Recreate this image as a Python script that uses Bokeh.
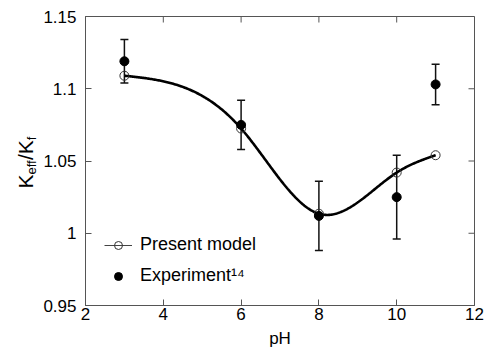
import numpy as np
from bokeh.plotting import figure
from bokeh.layouts import row
from bokeh.models import (ColumnDataSource, Whisker, TeeHead, Legend, LegendItem,
                          FixedTicker, Label, Range1d)
from bokeh.embed import file_html
from bokeh.resources import INLINE

# ---- data ----
ph_model = [3, 6, 8, 10, 11]
k_model = [1.109, 1.0725, 1.0135, 1.042, 1.054]

ph_exp = [3, 6, 8, 10, 11]
k_exp = [1.119, 1.075, 1.012, 1.025, 1.103]
k_err = [0.015, 0.017, 0.024, 0.029, 0.014]

x_ticks = [2, 4, 6, 8, 10, 12]
x_tick_labels = ["2", "4", "6", "8", "10", "12"]
y_ticks = [0.95, 1.0, 1.05, 1.1, 1.15]
y_tick_labels = ["0.95", "1", "1.05", "1.1", "1.15"]

legend_model = "Present model"
legend_exp = "Experiment\u00b9\u2074"
x_title = "pH"
# y title: K_eff / K_f  (text, is_subscript)
y_title_parts = [("K", False), ("eff", True), ("/", False), ("K", False), ("f", True)]

X_MIN, X_MAX = 2, 12
Y_MIN, Y_MAX = 0.95, 1.15

FONT = "Liberation Sans"
AX = "#555555"
W, H = 484, 360
LABEL_W = 40


def natural_spline(x, y, n=300):
    x = np.asarray(x, float)
    y = np.asarray(y, float)
    m = len(x)
    h = np.diff(x)
    A = np.zeros((m, m))
    b = np.zeros(m)
    A[0, 0] = 1.0
    A[-1, -1] = 1.0
    for i in range(1, m - 1):
        A[i, i - 1] = h[i - 1]
        A[i, i] = 2 * (h[i - 1] + h[i])
        A[i, i + 1] = h[i]
        b[i] = 6 * ((y[i + 1] - y[i]) / h[i] - (y[i] - y[i - 1]) / h[i - 1])
    M = np.linalg.solve(A, b)
    xs = np.linspace(x[0], x[-1], n)
    ys = np.empty_like(xs)
    for k, t in enumerate(xs):
        i = min(np.searchsorted(x, t, side="right") - 1, m - 2)
        hi = h[i]
        a = (x[i + 1] - t) / hi
        c = (t - x[i]) / hi
        ys[k] = (a * y[i] + c * y[i + 1]
                 + ((a ** 3 - a) * M[i] + (c ** 3 - c) * M[i + 1]) * hi ** 2 / 6)
    return xs, ys


sx, sy = natural_spline(ph_model, k_model)

p = figure(width=W - LABEL_W, height=H, output_backend="svg", toolbar_location=None,
           x_range=Range1d(X_MIN, X_MAX), y_range=Range1d(Y_MIN, Y_MAX),
           min_border_left=85 - LABEL_W, min_border_right=10, min_border_top=16,
           min_border_bottom=55)
p.grid.visible = False
p.outline_line_color = AX
p.outline_line_width = 1
p.background_fill_color = "white"
p.border_fill_color = "white"

# mirrored ticks on top and right edges of the frame
p.ray(x=x_ticks, y=[Y_MAX] * len(x_ticks), length=6, length_units="screen",
      angle=-np.pi / 2, line_color=AX, line_width=1)
p.ray(x=[X_MAX] * len(y_ticks), y=y_ticks, length=6, length_units="screen",
      angle=np.pi, line_color=AX, line_width=1)

# thin line (used for legend sample) and thick curve
thin = p.line(sx, sy, line_color="#444444", line_width=1)
p.line(sx, sy, line_color="black", line_width=2.6)

# error bars
err_src = ColumnDataSource(dict(
    x=ph_exp,
    upper=[v + e for v, e in zip(k_exp, k_err)],
    lower=[v - e for v, e in zip(k_exp, k_err)],
))
wh = Whisker(base="x", upper="upper", lower="lower", source=err_src,
             line_color="#111111", line_width=1.5,
             upper_head=TeeHead(size=8, line_width=1.5, line_color="#111111"),
             lower_head=TeeHead(size=8, line_width=1.5, line_color="#111111"))
p.add_layout(wh)

open_c = p.scatter(ph_model, k_model, marker="circle", size=9,
                   fill_color="white", fill_alpha=0.0, line_color="#333333",
                   line_width=1)
exp_c = p.scatter(ph_exp, k_exp, marker="circle", size=9,
                  fill_color="black", line_color="black")

legend = Legend(items=[LegendItem(label=legend_model, renderers=[thin, open_c]),
                       LegendItem(label=legend_exp, renderers=[exp_c])],
                location=(19, 19), padding=0, margin=0, spacing=10,
                glyph_width=28, glyph_height=20, label_standoff=8,
                label_height=20,
                border_line_color=None, background_fill_alpha=0,
                label_text_font=FONT, label_text_font_size="18px",
                label_text_color="black")
p.add_layout(legend)

# axes styling
for ax in (p.xaxis[0], p.yaxis[0]):
    ax.axis_line_color = AX
    ax.major_tick_line_color = AX
    ax.minor_tick_line_color = None
    ax.major_tick_in = 6
    ax.major_tick_out = 0
    ax.major_label_text_font = FONT
    ax.major_label_text_font_size = "17px"
    ax.major_label_text_color = "black"

p.xaxis[0].ticker = FixedTicker(ticks=x_ticks)
p.xaxis[0].major_label_overrides = dict(zip(x_ticks, x_tick_labels))
p.xaxis[0].major_label_standoff = 2
p.xaxis[0].axis_label = x_title
p.xaxis[0].axis_label_text_font = FONT
p.xaxis[0].axis_label_text_font_size = "17px"
p.xaxis[0].axis_label_text_font_style = "normal"
p.xaxis[0].axis_label_text_color = "black"
p.xaxis[0].axis_label_standoff = 6

p.yaxis[0].ticker = FixedTicker(ticks=y_ticks)
p.yaxis[0].major_label_overrides = dict(zip(y_ticks, y_tick_labels))
p.yaxis[0].major_label_standoff = 9

# narrow strip on the left holding the rotated y title with subscripts
t = figure(width=LABEL_W, height=H, output_backend="svg", toolbar_location=None,
           x_range=Range1d(0, 1), y_range=Range1d(0, 1), min_border=0)
t.axis.visible = False
t.grid.visible = False
t.outline_line_color = None
t.border_fill_color = "white"
t.background_fill_color = "white"

BIG, SMALL = 21, 13
# approximate advance widths (Liberation Sans) for stacking the pieces
adv = {"K": 0.667, "e": 0.556, "f": 0.278, "/": 0.278}
base_x = 25
sy_pos = 188
for txt, sub in y_title_parts:
    fs = SMALL if sub else BIG
    t.add_layout(Label(x=base_x + (6 if sub else 0), y=sy_pos,
                       x_units="canvas", y_units="canvas",
                       text=txt, angle=np.pi / 2, text_font=FONT,
                       text_font_size=f"{fs}px", text_color="black",
                       text_align="left", text_baseline="alphabetic"))
    sy_pos -= sum(adv[ch] for ch in txt) * fs

layout = row(t, p, spacing=0)
open("out.html", "w").write(file_html(layout, INLINE))
